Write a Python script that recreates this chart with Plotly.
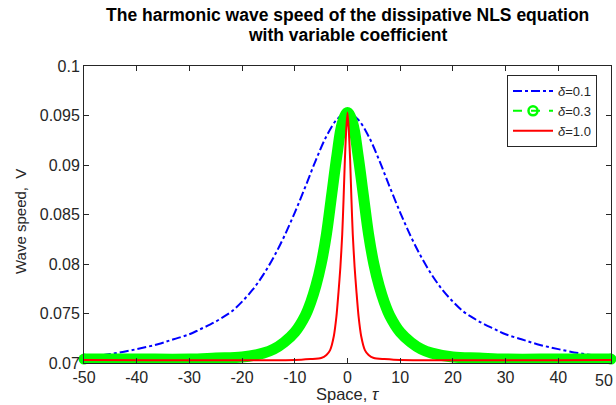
import plotly.graph_objects as go

# ---- data ----
tau_blue = [-50, -45, -40, -36, -33, -30, -28, -26, -24, -22, -20, -18, -16, -14, -12, -10, -8, -6, -4, -2, 0,
            2, 4, 6, 8, 10, 12, 14, 16, 18, 20, 22, 24, 26, 28, 30, 33, 36, 40, 45, 50]
v_blue = [0.0706, 0.0709, 0.0714, 0.0719, 0.0724, 0.0729, 0.0734, 0.0739, 0.0745, 0.0752, 0.0762,
          0.0774, 0.0789, 0.0807, 0.0828, 0.0852, 0.0878, 0.0905, 0.0929, 0.0946, 0.0953,
          0.0946, 0.0929, 0.0905, 0.0878, 0.0852, 0.0828, 0.0807, 0.0789, 0.0774, 0.0762,
          0.0752, 0.0745, 0.0739, 0.0734, 0.0729, 0.0724, 0.0719, 0.0714, 0.0709, 0.0706]

tau_green = [-50, -40, -30, -25, -20, -16, -14, -12, -10, -8, -7, -6, -5, -4, -3, -2, -1, 0,
             1, 2, 3, 4, 5, 6, 7, 8, 10, 12, 14, 16, 20, 25, 30, 40, 50]
v_green = [0.0704, 0.0704, 0.0704, 0.0705, 0.0706, 0.0710, 0.0714, 0.0721, 0.0731, 0.0748,
           0.0761, 0.0778, 0.0800, 0.0830, 0.0870, 0.0910, 0.0942, 0.0953,
           0.0942, 0.0910, 0.0870, 0.0830, 0.0800, 0.0778, 0.0761, 0.0748, 0.0731, 0.0721,
           0.0714, 0.0710, 0.0706, 0.0705, 0.0704, 0.0704, 0.0704]

tau_red = [-50, -10, -7, -5, -4, -3.3, -2.6, -2.1, -1.7, -1.35, -1.0, -0.75, -0.5, -0.25, 0,
           0.25, 0.5, 0.75, 1.0, 1.35, 1.7, 2.1, 2.6, 3.3, 4, 5, 7, 10, 50]
v_red = [0.0703, 0.0703, 0.0704, 0.0705, 0.0708, 0.0713, 0.0727, 0.0747, 0.0772, 0.0797,
         0.0830, 0.0865, 0.0905, 0.0935, 0.0953,
         0.0935, 0.0905, 0.0865, 0.0830, 0.0797, 0.0772, 0.0747, 0.0727, 0.0713, 0.0708,
         0.0705, 0.0704, 0.0703, 0.0703]

legend_names = ["<i>δ</i>=0.1", "<i>δ</i>=0.3", "<i>δ</i>=1.0"]
title_lines = ["The harmonic wave speed of the dissipative NLS equation", "with variable coefficient"]
x_ticks = [-50, -40, -30, -20, -10, 0, 10, 20, 30, 40, 50]
x_ticklabels = ["-50", "-40", "-30", "-20", "-10", "0", "10", "20", "30", "40", "50"]
y_ticks = [0.07, 0.075, 0.08, 0.085, 0.09, 0.095, 0.1]
y_ticklabels = ["0.07", "0.075", "0.08", "0.085", "0.09", "0.095", "0.1"]

FONT = "Liberation Sans, Arial, sans-serif"
AX = "#262626"
W, H = 616, 405
LEFT, RIGHT = 84, 611       # plot area pixel columns
TOP, BOT = 66, 363          # plot area pixel rows
PW, PH = RIGHT - LEFT, BOT - TOP


def py(pix):
    return (BOT - pix) / PH


def px(pix):
    return (pix - LEFT) / PW


fig = go.Figure()
fig.add_trace(go.Scatter(x=tau_blue, y=v_blue, mode="lines", name=legend_names[0],
                         line=dict(color="#0000FF", width=2, dash="dashdot", shape="spline")))
fig.add_trace(go.Scatter(x=tau_green, y=v_green, mode="lines", showlegend=False,
                         line=dict(color="#00FF00", width=11, shape="spline")))
fig.add_trace(go.Scatter(x=[tau_green[0], tau_green[-1]], y=[v_green[0], v_green[-1]],
                         mode="markers", showlegend=False, cliponaxis=False,
                         marker=dict(color="#00FF00", size=11, line=dict(width=0))))
fig.add_trace(go.Scatter(x=[None], y=[None], mode="lines+markers", name=legend_names[1],
                         line=dict(color="#00FF00", width=2, dash="dash"),
                         marker=dict(symbol="circle-open", color="#00FF00", size=9,
                                     line=dict(width=2.5, color="#00FF00"))))
fig.add_trace(go.Scatter(x=tau_red, y=v_red, mode="lines", name=legend_names[2],
                         line=dict(color="#FF0000", width=2, shape="spline", smoothing=0.6)))

axis_common = dict(showgrid=False, zeroline=False, showline=True, linecolor=AX, linewidth=1,
                   mirror="ticks", ticks="inside", ticklen=5, tickcolor=AX,
                   tickfont=dict(family=FONT, size=16, color=AX))
# last x label drawn as an annotation, pushed against the right edge so it stays visible
fig.update_xaxes(range=[-50, 50], tickvals=x_ticks,
                 ticktext=x_ticklabels[:-1] + [""], **axis_common)
fig.update_yaxes(range=[0.07, 0.1], tickvals=y_ticks, ticktext=y_ticklabels, **axis_common)

annotations = [
    dict(text=f"<b>{title_lines[0]}</b>", xref="paper", yref="paper", x=0.5, y=py(15),
         xanchor="center", yanchor="middle", showarrow=False,
         font=dict(family=FONT, size=17.5, color="#000000")),
    dict(text=f"<b>{title_lines[1]}</b>", xref="paper", yref="paper", x=0.5, y=py(35),
         xanchor="center", yanchor="middle", showarrow=False,
         font=dict(family=FONT, size=17.5, color="#000000")),
    dict(text="Space, <i>τ</i>", xref="paper", yref="paper", x=0.5, y=py(394),
         xanchor="center", yanchor="middle", showarrow=False,
         font=dict(family=FONT, size=16.5, color=AX)),
    dict(text="Wave speed,  V", xref="paper", yref="paper", x=px(20),
         y=py(222), xanchor="center", yanchor="middle", textangle=-90,
         showarrow=False, font=dict(family=FONT, size=15, color=AX)),
    dict(text=x_ticklabels[-1], xref="paper", yref="paper", x=px(615), y=py(380),
         xanchor="right", yanchor="middle", showarrow=False,
         font=dict(family=FONT, size=16, color=AX)),
]

fig.update_layout(
    width=W, height=H,
    margin=dict(l=LEFT, r=W - RIGHT, t=TOP, b=H - BOT),
    paper_bgcolor="white", plot_bgcolor="white",
    font=dict(family=FONT, color=AX),
    legend=dict(x=px(597), y=py(75), xanchor="right", yanchor="top",
                bgcolor="white", bordercolor=AX, borderwidth=1,
                font=dict(family=FONT, size=13, color=AX),
                tracegroupgap=0, itemwidth=40),
    showlegend=True,
    annotations=annotations,
)

fig.write_html("out.html", config={"displayModeBar": False},
               post_script="document.body.style.margin='0px';document.body.style.overflow='hidden';")
